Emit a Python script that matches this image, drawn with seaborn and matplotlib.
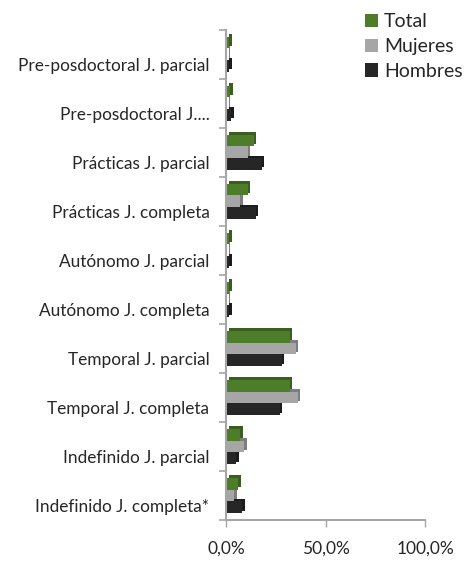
import numpy as np
import pandas as pd
import matplotlib
matplotlib.use("Agg")
import matplotlib.pyplot as plt
import matplotlib.transforms as mtransforms
from matplotlib.ticker import FuncFormatter, FixedLocator
import seaborn as sns

# categories, top to bottom as drawn
categorias = ["Pre-posdoctoral J. parcial", "Pre-posdoctoral J....", "Prácticas J. parcial",
              "Prácticas J. completa", "Autónomo J. parcial", "Autónomo J. completa",
              "Temporal J. parcial", "Temporal J. completa", "Indefinido J. parcial",
              "Indefinido J. completa*"]
total = [1.5, 2.0, 14.0, 11.0, 1.5, 1.5, 32.0, 32.0, 7.0, 6.0]
mujeres = [0.5, 0.5, 11.0, 7.0, 0.5, 0.5, 35.0, 36.0, 9.0, 4.0]
hombres = [1.5, 2.5, 18.0, 15.0, 1.5, 1.5, 28.0, 27.0, 5.0, 8.0]
series = ["Total", "Mujeres", "Hombres"]
colores = ["#4E7D2A", "#A6A6A6", "#262626"]
xticks = [0, 50, 100]

df = pd.DataFrame({"Categoria": categorias, "Total": total, "Mujeres": mujeres, "Hombres": hombres})
df = df.melt(id_vars="Categoria", var_name="Serie", value_name="Valor")

sns.set_style("white")
plt.rcParams["font.family"] = ["Lato", "DejaVu Sans"]

fig = plt.figure(figsize=(4.76, 5.61), dpi=100)
ax = fig.add_axes([0.475, 0.073, 0.418, 0.874])

sns.barplot(data=df, y="Categoria", x="Valor", hue="Serie", order=categorias,
            hue_order=series, palette=colores, orient="h", width=0.72,
            saturation=1, linewidth=0, ax=ax, legend=True)

# fake 3D depth: a darker sliver behind each bar
for p in list(ax.patches):
    if p.get_width() <= 0:
        continue
    x, y = p.get_x(), p.get_y()
    w, h = p.get_width(), p.get_height()
    fc = np.array(p.get_facecolor()[:3]) * 0.75
    depth = mtransforms.offset_copy(ax.transData, fig=fig, x=2.5, y=2.5, units="dots")
    ax.add_patch(plt.Rectangle((x, y), w, h, facecolor=fc, edgecolor="none",
                               transform=depth, zorder=p.get_zorder() - 0.1))

ax.set_xlim(0, 100)
ax.set_ylim(len(categorias) - 0.5, -0.5)
ax.set_xlabel("")
ax.set_ylabel("")
ax.xaxis.set_major_locator(FixedLocator(xticks))
ax.xaxis.set_major_formatter(FuncFormatter(lambda v, _: f"{v:.1f}%".replace(".", ",")))

for s in ["top", "right"]:
    ax.spines[s].set_visible(False)
for s in ["left", "bottom"]:
    ax.spines[s].set_color("#A6A6A6")
    ax.spines[s].set_linewidth(1.5)

ax.tick_params(axis="y", which="major", left=False, length=0, labelsize=12.4, pad=12)
ax.tick_params(axis="x", bottom=True, length=5, color="#A6A6A6", width=1, labelsize=12.5, pad=10)

# small gray separators between category groups on the value axis
ax.yaxis.set_minor_locator(FixedLocator(np.arange(-0.5, len(categorias), 1)))
ax.yaxis.set_tick_params(which="minor", left=True, direction="out", length=5,
                         color="#A6A6A6", width=1.2)

# labels sit a bit lower, like the perspective in the original
shift = mtransforms.ScaledTranslation(0, -10 / 100, fig.dpi_scale_trans)
for lbl in ax.get_yticklabels():
    lbl.set_transform(lbl.get_transform() + shift)

leg = ax.legend(loc="upper left", bbox_to_anchor=(0.75, 0.99), bbox_transform=fig.transFigure,
                frameon=False, fontsize=14, handlelength=0.7, handleheight=0.7,
                handletextpad=0.3, labelspacing=0.4, borderaxespad=0)

fig.savefig("out.png", dpi=100)
